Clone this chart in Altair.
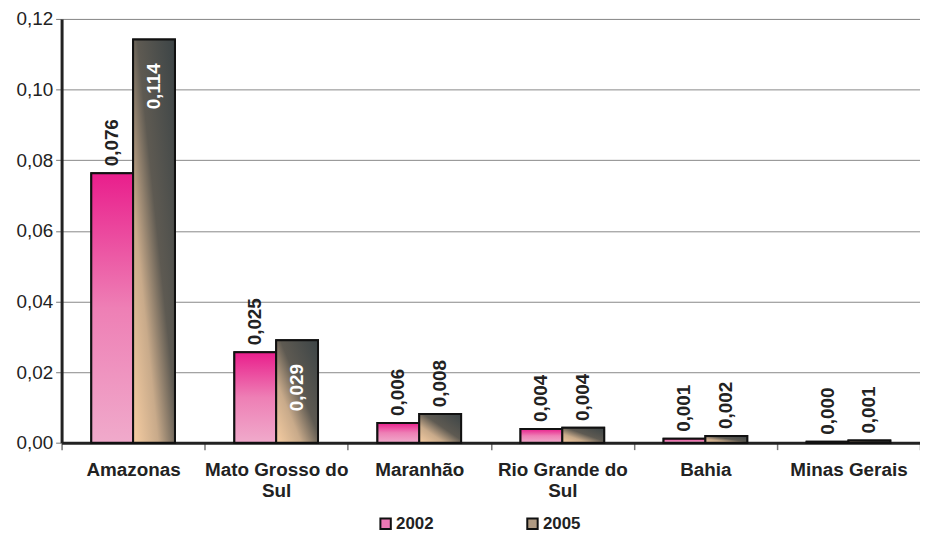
import altair as alt
import pandas as pd

categories = ["Amazonas", "Mato Grosso do Sul", "Maranhão", "Rio Grande do Sul", "Bahia", "Minas Gerais"]
years = ["2002", "2005"]
v2002 = [0.0763, 0.0256, 0.0056, 0.0039, 0.0011, 0.0003]
v2005 = [0.1142, 0.0290, 0.0081, 0.0042, 0.0019, 0.0006]
labels2002 = ["0,076", "0,025", "0,006", "0,004", "0,001", "0,000"]
labels2005 = ["0,114", "0,029", "0,008", "0,004", "0,002", "0,001"]
inside_labels = [("Amazonas", "2005"), ("Mato Grosso do Sul", "2005")]
y_ticks = [0.0, 0.02, 0.04, 0.06, 0.08, 0.10, 0.12]
wrapped = {"Mato Grosso do Sul": ["Mato Grosso do", "Sul"], "Rio Grande do Sul": ["Rio Grande do", "Sul"]}

rows = []
for c, a, b, la, lb in zip(categories, v2002, v2005, labels2002, labels2005):
    rows.append({"estado": c, "ano": "2002", "valor": a, "rotulo": la,
                 "dentro": (c, "2002") in inside_labels})
    rows.append({"estado": c, "ano": "2005", "valor": b, "rotulo": lb,
                 "dentro": (c, "2005") in inside_labels})
df = pd.DataFrame(rows)

label_expr = "datum.label"
for k, v in wrapped.items():
    label_expr = f"datum.label == '{k}' ? {v} : (" + label_expr + ")"

FONT = "Liberation Sans"

x = alt.X("estado:N", sort=categories, title=None,
          scale=alt.Scale(paddingInner=0, paddingOuter=0),
          axis=alt.Axis(labelAngle=0, labelFontWeight="bold", labelFontSize=19,
                        labelColor="#222", labelFont=FONT, labelPadding=11,
                        labelExpr=label_expr, labelLineHeight=21,
                        tickBand="extent", tickSize=7, tickColor="#777", tickWidth=1.5,
                        domainColor="#222", domainWidth=3, grid=False, labelLimit=200))
xo = alt.XOffset("ano:N", sort=years, scale=alt.Scale(paddingOuter=0.71, paddingInner=0))
y = alt.Y("valor:Q", title=None,
          scale=alt.Scale(domain=[0, 0.12], nice=False),
          axis=alt.Axis(values=y_ticks, labelExpr="replace(format(datum.value, '.2f'), '.', ',')",
                        labelFontSize=19, labelFont=FONT, labelColor="#222", labelPadding=3,
                        tickSize=6, tickColor="#777", domainColor="#222", domainWidth=3,
                        gridColor="#888", gridWidth=1))

base = alt.Chart(df).encode(x=x, xOffset=xo, y=y)

legend_bars = base.mark_bar(stroke="#111", strokeWidth=2).encode(
    color=alt.Color("ano:N", sort=years,
                    scale=alt.Scale(domain=years, range=["#EE78B4", "#B09A82"]),
                    legend=alt.Legend(title=None, orient="none", direction="horizontal",
                                      legendX=318, legendY=500, symbolType="square",
                                      symbolSize=110, symbolStrokeColor="#111",
                                      symbolStrokeWidth=2, labelFontSize=17,
                                      labelFontWeight="bold", labelFont=FONT,
                                      labelColor="#222", columnPadding=90, labelOffset=2))
)

grad2002 = {"gradient": "linear", "x1": 0, "y1": 0, "x2": 0, "y2": 1,
            "stops": [{"offset": 0, "color": "#E91E8C"},
                      {"offset": 0.5, "color": "#EE7FB5"},
                      {"offset": 1, "color": "#F0AACB"}]}
grad2005 = {"gradient": "linear", "x1": 0, "y1": 1, "x2": 1, "y2": 0,
            "stops": [{"offset": 0, "color": "#F6CDA2"},
                      {"offset": 0.3, "color": "#C8AA8A"},
                      {"offset": 0.55, "color": "#5E5A52"},
                      {"offset": 1, "color": "#3C4446"}]}

bars2002 = base.transform_filter("datum.ano == '2002'").mark_bar(
    fill=grad2002, stroke="#111", strokeWidth=2)
bars2005 = base.transform_filter("datum.ano == '2005'").mark_bar(
    fill=grad2005, stroke="#111", strokeWidth=2)

text_out = base.transform_filter("!datum.dentro").mark_text(
    angle=270, align="left", baseline="middle", dx=7, fontSize=19,
    fontWeight="bold", font=FONT, color="#222").encode(text="rotulo:N")
text_in = base.transform_filter("datum.dentro").mark_text(
    angle=270, align="right", baseline="middle", dx=-24, fontSize=19,
    fontWeight="bold", font=FONT, color="white").encode(text="rotulo:N")

chart = alt.layer(legend_bars, bars2002, bars2005, text_out, text_in).properties(
    width=865, height=427,
    autosize=alt.AutoSizeParams(type="none"),
    padding={"left": 54, "top": 9, "right": 0, "bottom": 90},
).configure_view(stroke="#222", strokeWidth=1.5).configure(background="white")

chart.save("out.html", embed_options={"renderer": "svg", "actions": False})
